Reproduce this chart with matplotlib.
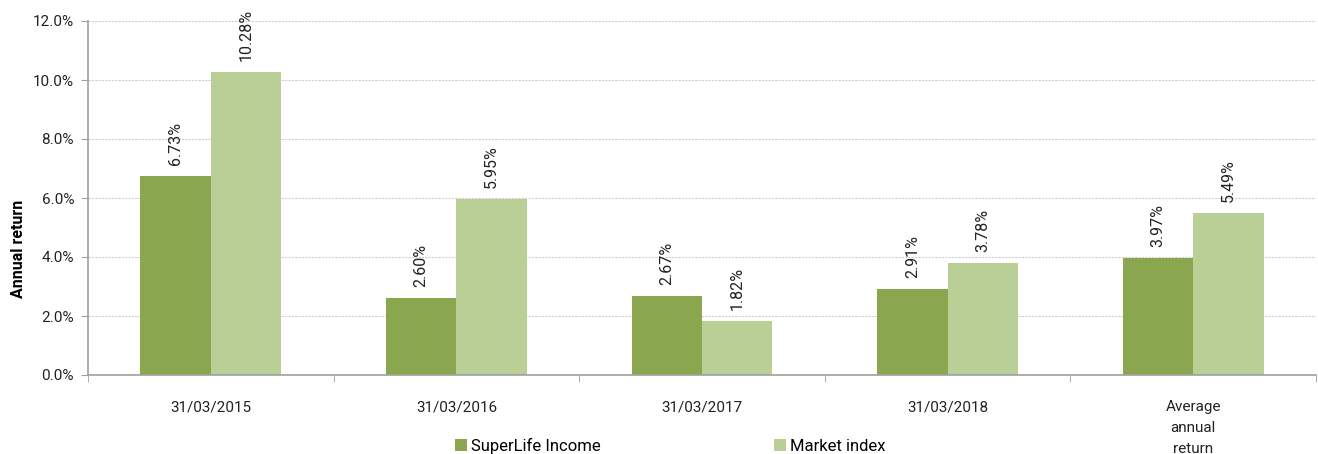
import numpy as np
import matplotlib.pyplot as plt
from matplotlib.ticker import FuncFormatter

plt.rcParams['font.family'] = ['Roboto', 'DejaVu Sans']

categories = ['31/03/2015', '31/03/2016', '31/03/2017', '31/03/2018', 'Average\nannual\nreturn']
superlife = [6.73, 2.60, 2.67, 2.91, 3.97]
market = [10.28, 5.95, 1.82, 3.78, 5.49]
series_names = ['SuperLife Income', 'Market index']

dark_green = '#8aa64f'
light_green = '#bacf96'
axis_grey = '#a0a0a0'

fig = plt.figure(figsize=(13.18, 4.54), dpi=100)
ax = fig.add_axes([88 / 1318, 1 - 375 / 454, (1316 - 88) / 1318, (375 - 21) / 454])

x = np.arange(len(categories))
w = 0.287
b1 = ax.bar(x - w / 2, superlife, w, color=dark_green, label=series_names[0], zorder=2)
b2 = ax.bar(x + w / 2, market, w, color=light_green, label=series_names[1], zorder=2)

for bars, vals in ((b1, superlife), (b2, market)):
    for bar, v in zip(bars, vals):
        ax.annotate('{:.2f}%'.format(v), (bar.get_x() + bar.get_width() / 2, v),
                    xytext=(0, 8), textcoords='offset points', rotation=90,
                    ha='center', va='bottom', fontsize=11.5, color='#222222')

ax.set_xlim(-0.5, len(categories) - 0.5)
ax.set_ylim(0, 12)
ax.set_yticks(np.arange(0, 12.1, 2))
ax.yaxis.set_major_formatter(FuncFormatter(lambda v, p: '{:.1f}%'.format(v)))
ax.grid(axis='y', linestyle=(0, (2, 1)), color='#cfcfcf', linewidth=0.8, zorder=0)

ax.set_xticks(x)
ax.set_xticklabels(categories, fontsize=11, color='#222222', linespacing=1.65, va='top')
ax.set_xticks(np.arange(-0.5, len(categories), 1), minor=True)
ax.tick_params(axis='x', which='major', length=0, pad=18)
ax.tick_params(axis='x', which='minor', length=5, color=axis_grey, direction='out')
ax.tick_params(axis='y', length=5, color=axis_grey, labelsize=11, labelcolor='#222222', pad=5)

for s in ('top', 'right'):
    ax.spines[s].set_visible(False)
for s in ('left', 'bottom'):
    ax.spines[s].set_color(axis_grey)
    ax.spines[s].set_linewidth(1.2)

ax.set_ylabel('Annual return', fontsize=11.5, fontweight='bold')
ax.yaxis.set_label_coords((26 - 88) / 1228, (375 - 249) / 354)

fig.legend(handles=[b1, b2], loc='center', bbox_to_anchor=(670 / 1318, 1 - 446 / 454), ncol=2,
           frameon=False, fontsize=12, handlelength=0.75, handleheight=0.75, handletextpad=0.2,
           columnspacing=10.4, borderaxespad=0)

fig.savefig('out.png', dpi=100)
